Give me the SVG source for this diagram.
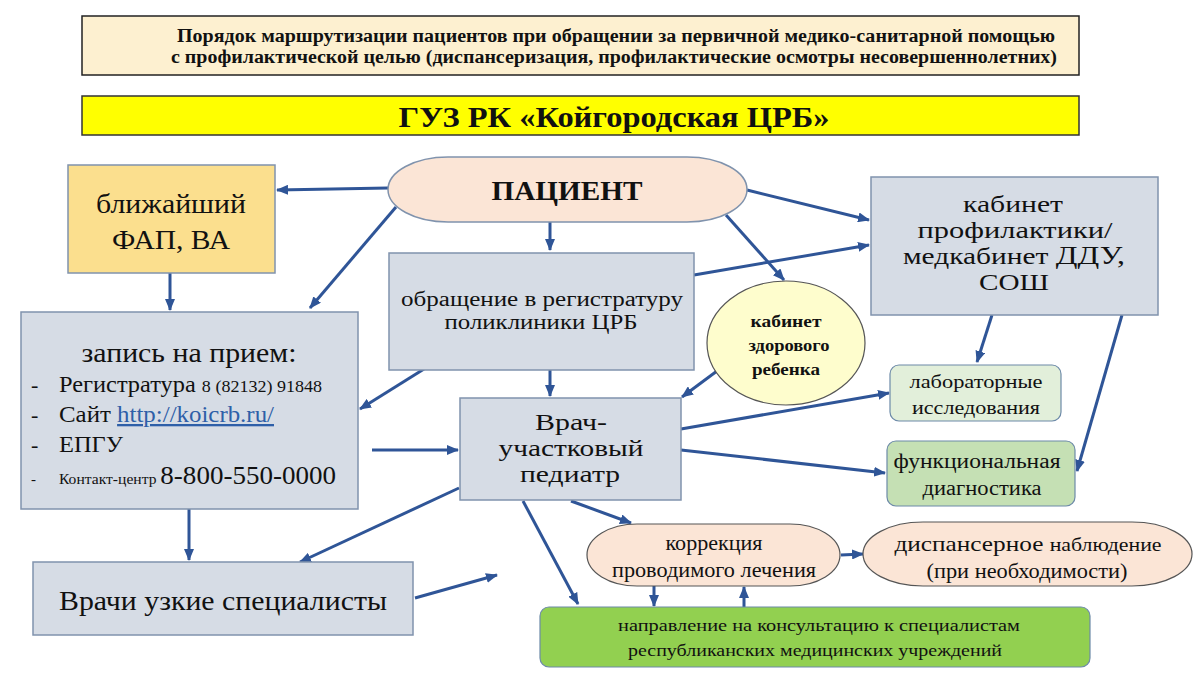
<svg xmlns="http://www.w3.org/2000/svg" width="1200" height="675" viewBox="0 0 1200 675" font-family="'Liberation Serif', 'DejaVu Serif', serif">
<style>
text{font-family:"Liberation Serif","Times New Roman","DejaVu Serif",serif;fill:#111}
.b{font-weight:bold}
.box{fill:#d6dce5;stroke:#8093ad;stroke-width:1.5}
.c{fill:none;stroke:#2f5597;stroke-width:3;marker-end:url(#ah)}
.m{text-anchor:middle}
</style>
<defs>
<marker id="ah" markerUnits="userSpaceOnUse" markerWidth="12" markerHeight="10" refX="11" refY="5" orient="auto">
<path d="M0,0 L12,5 L0,10 z" fill="#2f5597"/>
</marker>
</defs>
<rect width="1200" height="675" fill="#fff"/>
<g id="header">
<rect x="82" y="16" width="997" height="59" fill="#fdf0d0" stroke="#222" stroke-width="1.5"/>
<text class="b m" x="616" y="42" font-size="18" textLength="878" lengthAdjust="spacingAndGlyphs">Порядок маршрутизации пациентов при обращении за первичной медико-санитарной помощью</text>
<text class="b m" x="614" y="63" font-size="18" textLength="886" lengthAdjust="spacingAndGlyphs">с профилактической целью (диспансеризация, профилактические осмотры несовершеннолетних)</text>
</g>
<g id="title">
<rect x="82" y="96" width="997" height="39" fill="#ffff00" stroke="#333" stroke-width="1.5"/>
<text class="b m" x="614" y="127" font-size="30" textLength="431" lengthAdjust="spacingAndGlyphs">ГУЗ РК «Койгородская ЦРБ»</text>
</g>
<g id="connectors">
<line class="c" x1="388" y1="188" x2="277" y2="190"/>
<line class="c" x1="396" y1="207" x2="310" y2="308"/>
<line class="c" x1="170" y1="273" x2="170" y2="310"/>
<line class="c" x1="550" y1="222" x2="550" y2="250"/>
<line class="c" x1="747" y1="190" x2="869" y2="220"/>
<line class="c" x1="694" y1="275" x2="869" y2="245"/>
<line class="c" x1="726" y1="215" x2="784" y2="280"/>
<line class="c" x1="424" y1="369" x2="360" y2="409"/>
<line class="c" x1="550" y1="370" x2="550" y2="396"/>
<line class="c" x1="717" y1="371" x2="682" y2="397"/>
<line class="c" x1="372" y1="450" x2="458" y2="450"/>
<line class="c" x1="681" y1="429" x2="889" y2="393"/>
<line class="c" x1="681" y1="450" x2="885" y2="473"/>
<line class="c" x1="992" y1="315" x2="977" y2="362"/>
<line class="c" x1="1122" y1="315" x2="1077" y2="471"/>
<line class="c" x1="571" y1="501" x2="631" y2="523"/>
<line class="c" x1="459" y1="488" x2="300" y2="562"/>
<line class="c" x1="189" y1="509" x2="189" y2="560"/>
<line class="c" x1="415" y1="598" x2="497" y2="575"/>
<line class="c" x1="523" y1="501" x2="578" y2="604"/>
<line class="c" x1="654" y1="586" x2="654" y2="606"/>
<line class="c" x1="744" y1="607" x2="744" y2="587"/>
<line class="c" x1="841" y1="555" x2="863" y2="554"/>
</g>
<g id="fap">
<rect x="68" y="165" width="207" height="108" fill="#fbdf8e" stroke="#8093ad" stroke-width="1.5"/>
<text class="m" x="171" y="213" font-size="28" textLength="150" lengthAdjust="spacingAndGlyphs">ближайший</text>
<text class="m" x="171" y="249" font-size="28" textLength="118" lengthAdjust="spacingAndGlyphs">ФАП, ВА</text>
</g>
<g id="zapis">
<rect class="box" x="21" y="312" width="337" height="197"/>
<text class="m" x="189" y="362" font-size="27" textLength="215" lengthAdjust="spacingAndGlyphs">запись на прием:</text>
<text x="31" y="392" font-size="22">-</text>
<text x="59" y="392" font-size="23" textLength="263" lengthAdjust="spacingAndGlyphs">Регистратура <tspan font-size="17">8 (82132) 91848</tspan></text>
<text x="31" y="422" font-size="22">-</text>
<text x="59" y="422" font-size="23" textLength="215" lengthAdjust="spacingAndGlyphs">Сайт <tspan fill="#2e5fa8" text-decoration="underline">http://koicrb.ru/</tspan></text>
<text x="31" y="452" font-size="22">-</text>
<text x="59" y="452" font-size="23" textLength="64" lengthAdjust="spacingAndGlyphs">ЕПГУ</text>
<text x="31" y="484" font-size="15">-</text>
<text x="59" y="484" font-size="15" textLength="277" lengthAdjust="spacingAndGlyphs">Контакт-центр <tspan font-size="26">8-800-550-0000</tspan></text>
</g>
<g id="patient">
<rect x="388" y="157" width="359" height="65" rx="60" ry="32.5" fill="#fbe5d6" stroke="#8093ad" stroke-width="1.5"/>
<text class="b m" x="567" y="200" font-size="28" textLength="151" lengthAdjust="spacingAndGlyphs">ПАЦИЕНТ</text>
</g>
<g id="registry">
<rect class="box" x="389" y="253" width="305" height="117"/>
<text class="m" x="542" y="306" font-size="20" textLength="282" lengthAdjust="spacingAndGlyphs">обращение в регистратуру</text>
<text class="m" x="541" y="329" font-size="20" textLength="193" lengthAdjust="spacingAndGlyphs">поликлиники ЦРБ</text>
</g>
<g id="prophylaxis">
<rect class="box" x="871" y="177" width="287" height="138"/>
<text class="m" x="1013" y="212" font-size="24" textLength="100" lengthAdjust="spacingAndGlyphs">кабинет</text>
<text class="m" x="1015" y="238" font-size="24" textLength="195" lengthAdjust="spacingAndGlyphs">профилактики/</text>
<text class="m" x="1014" y="264" font-size="24" textLength="222" lengthAdjust="spacingAndGlyphs">медкабинет <tspan font-size="26">ДДУ,</tspan></text>
<text class="m" x="1014" y="290" font-size="24" textLength="70" lengthAdjust="spacingAndGlyphs">СОШ</text>
</g>
<g id="healthy-child">
<ellipse cx="786" cy="343" rx="79" ry="62" fill="#fefdcd" stroke="#555" stroke-width="1.2"/>
<text class="b m" x="786" y="327" font-size="16" textLength="71" lengthAdjust="spacingAndGlyphs">кабинет</text>
<text class="b m" x="789" y="351" font-size="16" textLength="81" lengthAdjust="spacingAndGlyphs">здорового</text>
<text class="b m" x="786" y="375" font-size="16" textLength="68" lengthAdjust="spacingAndGlyphs">ребенка</text>
</g>
<g id="pediatrician">
<rect class="box" x="460" y="398" width="221" height="102"/>
<text class="m" x="571" y="430" font-size="24" textLength="72" lengthAdjust="spacingAndGlyphs">Врач-</text>
<text class="m" x="571" y="456" font-size="24" textLength="145" lengthAdjust="spacingAndGlyphs">участковый</text>
<text class="m" x="570" y="482" font-size="24" textLength="100" lengthAdjust="spacingAndGlyphs">педиатр</text>
</g>
<g id="lab">
<rect x="890" y="365" width="171" height="56" rx="9" fill="#e2efda" stroke="#6d8aa8" stroke-width="1.2"/>
<text class="m" x="976" y="388" font-size="19" textLength="133" lengthAdjust="spacingAndGlyphs">лабораторные</text>
<text class="m" x="976" y="414" font-size="19" textLength="128" lengthAdjust="spacingAndGlyphs">исследования</text>
</g>
<g id="functional">
<rect x="887" y="441" width="188" height="65" rx="9" fill="#c5e0b4" stroke="#6d8aa8" stroke-width="1.2"/>
<text class="m" x="977" y="468" font-size="20" textLength="167" lengthAdjust="spacingAndGlyphs">функциональная</text>
<text class="m" x="982" y="495" font-size="20" textLength="119" lengthAdjust="spacingAndGlyphs">диагностика</text>
</g>
<g id="correction">
<rect x="587" y="524" width="253" height="62" rx="50" ry="31" fill="#fbe5d6" stroke="#555" stroke-width="1.2"/>
<text class="m" x="714" y="550" font-size="20" textLength="97" lengthAdjust="spacingAndGlyphs">коррекция</text>
<text class="m" x="714" y="577" font-size="20" textLength="204" lengthAdjust="spacingAndGlyphs">проводимого лечения</text>
</g>
<g id="dispensary">
<rect x="863" y="522" width="329" height="64" rx="60" ry="32" fill="#fbe5d6" stroke="#555" stroke-width="1.2"/>
<text class="m" x="1028" y="551" font-size="22" textLength="267" lengthAdjust="spacingAndGlyphs">диспансерное <tspan font-size="19">наблюдение</tspan></text>
<text class="m" x="1027" y="578" font-size="22" textLength="201" lengthAdjust="spacingAndGlyphs">(при необходимости)</text>
</g>
<g id="specialists">
<rect class="box" x="33" y="562" width="380" height="73"/>
<text class="m" x="223" y="610" font-size="27" textLength="328" lengthAdjust="spacingAndGlyphs">Врачи узкие специалисты</text>
</g>
<g id="referral">
<rect x="540" y="607" width="550" height="60" rx="9" fill="#92d050" stroke="#6d8aa8" stroke-width="1.2"/>
<text class="m" x="819" y="631" font-size="17" textLength="402" lengthAdjust="spacingAndGlyphs">направление на консультацию к специалистам</text>
<text class="m" x="815" y="656" font-size="17" textLength="374" lengthAdjust="spacingAndGlyphs">республиканских медицинских учреждений</text>
</g>
</svg>
